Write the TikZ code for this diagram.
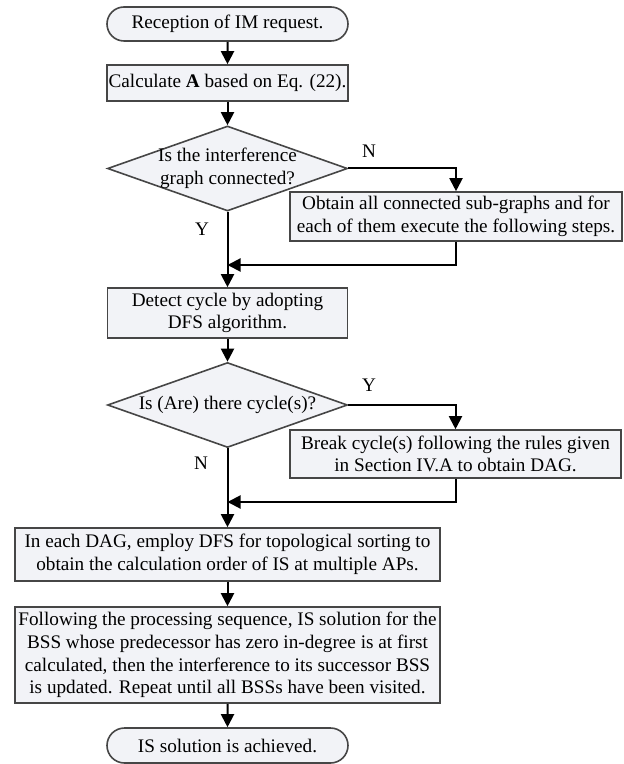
\documentclass[tikz,border=0pt]{standalone}
\usepackage{fontspec}
\setmainfont{Liberation Serif}
\usetikzlibrary{arrows.meta,shapes.geometric,shapes.misc}
\definecolor{boxfill}{RGB}{242,243,247}
\definecolor{boxline}{RGB}{70,70,70}
\tikzset{
    term/.style={rounded rectangle, draw=boxline, fill=boxfill, line width=0.8pt,
        minimum width=120.5pt, inner sep=0pt},
    box/.style={rectangle, draw=boxline, fill=boxfill, line width=0.8pt,
        align=center, inner sep=0pt},
    decision/.style={diamond, draw=boxline, fill=boxfill, line width=0.8pt,
        minimum width=120pt, minimum height=42.5pt, inner sep=0pt},
    flow/.style={-{Triangle[length=6.5pt,width=6.5pt]}, line width=1pt},
}
\begin{document}
\begin{tikzpicture}[x=0.5pt, y=0.5pt, font=\fontsize{9.6}{11.3}\selectfont]
    \useasboundingbox (0, 0) rectangle (624, -764);
    \node[term, minimum height=17pt] (start) at (227.5, -24) {Reception of IM request.};
    \node[box, minimum width=120.5pt, minimum height=18pt] (calc) at (227.5, -83)
        {Calculate \textbf{A} based on Eq. (22).};
    \node[decision, label={[align=center]center:Is the interference\\graph connected?}]
        (conn) at (227.5, -168.5) {};
    \node[box, minimum width=166pt, minimum height=24.5pt] (sub) at (456, -216.5)
        {Obtain all connected sub-graphs and for\\each of them execute the following steps.};
    \node[box, minimum width=120pt, minimum height=25pt] (dfs) at (227.5, -313)
        {Detect cycle by adopting\\DFS algorithm.};
    \node[decision, label={center:Is (Are) there cycle(s)?}] (cyc) at (227.5, -405) {};
    \node[box, minimum width=165.5pt, minimum height=24pt] (brk) at (455.5, -454)
        {Break cycle(s) following the rules given\\in Section IV.A to obtain DAG.};
    \node[box, minimum width=212.5pt, minimum height=26.5pt] (topo) at (227.5, -554.5)
        {In each DAG, employ DFS for topological sorting to\\obtain the calculation order of IS at multiple APs.};
    \node[box, minimum width=212.5pt, minimum height=48pt] (seq) at (227.5, -655)
        {Following the processing sequence, IS solution for the\\
         BSS whose predecessor has zero in-degree is at first\\
         calculated, then the interference to its successor BSS\\
         is updated. Repeat until all BSSs have been visited.};
    \node[term, minimum height=17.5pt] (done) at (227.5, -745.5) {IS solution is achieved.};
    \coordinate (j1) at (227.5, -265);
    \coordinate (j2) at (227.5, -502);
    \draw (369, -151) node (n1) {N}
          (202, -229) node (y1) {Y}
          (369, -385) node (y2) {Y}
          (201, -463) node (n2) {N};
    \path[every edge/.append style={flow}]
          (start) edge (calc)
          (calc) edge (conn)
          (conn.south) edge (dfs.north)
          (dfs) edge (cyc)
          (cyc.south) edge (topo.north)
          (topo) edge (seq)
          (seq) edge (done);
    \draw[flow] (conn.east) -| (sub.north);
    \draw[flow] (sub.south) |- (j1);
    \draw[flow] (cyc.east) -| (brk.north);
    \draw[flow] (brk.south) |- (j2);
\end{tikzpicture}
\end{document}
